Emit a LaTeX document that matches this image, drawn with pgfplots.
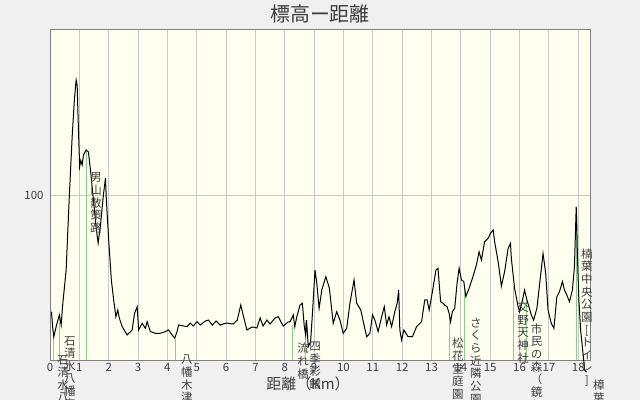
\documentclass[border=0pt]{standalone}
\usepackage{fontspec}
\setmainfont{Noto Sans CJK JP}
\usepackage{pgfplots}
\pgfplotsset{compat=1.18}
\definecolor{figbg}{RGB}{240,240,240}
\definecolor{plotbg}{RGB}{255,255,240}
\definecolor{gridc}{RGB}{200,200,200}
\definecolor{framec}{RGB}{128,128,128}
\definecolor{wpgreen}{RGB}{140,205,140}
\definecolor{txt}{RGB}{60,60,60}
\tikzset{wplabel/.style={anchor=north, inner sep=0pt, align=center, text=txt, font=\fontsize{11.5}{12.7}\selectfont}}
\begin{document}
\begin{tikzpicture}
\fill[figbg] (0,0) rectangle (640bp,400bp);
\useasboundingbox (0,0) rectangle (640bp,400bp);
\begin{axis}[
  at={(50bp,40bp)}, anchor=south west,
  width=540bp, height=330bp, scale only axis,
  xmin=0, xmax=18.4, ymin=0, ymax=200,
  clip=false,
  axis background/.style={fill=plotbg},
  axis line style={framec, line width=1bp},
  grid=major, major grid style={gridc, line width=1bp},
  xtick={0,1,...,18}, ytick={100},
  major tick length=0pt, tick style={draw=none},
  /pgf/number format/assume math mode=true,
  ticklabel style={font=\fontsize{11.5}{13}\selectfont, text=txt},
  yticklabel style={xshift=-3bp},
]
% waypoint lines
\addplot[wpgreen, line width=1bp] coordinates {(0.11,0) (0.11,14.5)};
\addplot[wpgreen, line width=1bp] coordinates {(0.33,0) (0.33,27)};
\addplot[wpgreen, line width=1bp] coordinates {(1.24,0) (1.24,127)};
\addplot[wpgreen, line width=1bp] coordinates {(4.27,0) (4.27,13)};
\addplot[wpgreen, line width=1bp] coordinates {(8.27,0) (8.27,21)};
\addplot[wpgreen, line width=1bp] coordinates {(8.72,0) (8.72,23)};
\addplot[wpgreen, line width=1bp] coordinates {(13.6,0) (13.6,28)};
\addplot[wpgreen, line width=1bp] coordinates {(14.14,0) (14.14,44)};
\addplot[wpgreen, line width=1bp] coordinates {(15.8,0) (15.8,45)};
\addplot[wpgreen, line width=1bp] coordinates {(16.25,0) (16.25,36)};
\addplot[wpgreen, line width=1bp] coordinates {(17.94,0) (17.94,80)};
% elevation profile
\addplot[black, line width=1bp] coordinates {
(0.05,29.3)(0.09,20)(0.13,14.1)(0.22,21)(0.32,27.3)(0.38,21.2)(0.43,33)(0.55,54.5)(0.66,100)(0.755,135.3)(0.83,157.6)(0.89,169.7)(0.925,166.7)(0.97,139.4)(1.01,117.2)(1.05,121)(1.095,118.2)(1.14,124.2)(1.23,127.3)(1.31,126)(1.38,115)(1.48,97)(1.58,78.8)(1.64,70.9)(1.72,81.8)(1.82,100)(1.89,110.3)(1.92,97)(2.0,72.7)(2.09,48.5)(2.17,36.4)(2.245,26.2)(2.31,30.3)(2.36,25.5)(2.46,20.2)(2.63,15.2)(2.80,18.2)(2.88,28.3)(2.97,32.3)(3.02,18.2)(3.14,22.2)(3.25,19.2)(3.31,23.2)(3.42,17.2)(3.59,16.2)(3.76,16.2)(3.93,17.2)(4.04,18.2)(4.16,15.2)(4.25,13.2)(4.33,17.2)(4.38,21.2)(4.67,20.2)(4.78,22.4)(4.88,20.6)(5.01,23.2)(5.12,21.2)(5.29,23.6)(5.40,24.2)(5.53,21.2)(5.66,23.6)(5.80,21.2)(6.0,22.4)(6.24,21.8)(6.38,24.2)(6.50,33.3)(6.58,27.3)(6.71,18.2)(6.89,20)(7.05,19.4)(7.16,25.5)(7.26,20.6)(7.39,24.2)(7.5,21.8)(7.67,25.5)(7.78,26.2)(7.87,23)(7.95,20.6)(8.11,23)(8.18,23.2)(8.29,27.3)(8.34,20.2)(8.41,26.2)(8.52,33.3)(8.60,34.4)(8.66,21.2)(8.71,15.2)(8.74,24.2)(8.80,8.1)(8.88,11.1)(8.95,30.3)(9.03,54.5)(9.09,46.5)(9.17,31.3)(9.26,42.4)(9.40,50.5)(9.52,43.5)(9.65,22.2)(9.77,29.3)(9.88,24.2)(9.99,16.2)(10.11,19.2)(10.22,34.4)(10.36,48.5)(10.45,34.4)(10.59,30.3)(10.70,21.2)(10.79,14.1)(10.90,16.2)(10.99,27.3)(11.07,24.2)(11.18,17.2)(11.30,26.2)(11.39,32.3)(11.47,21.2)(11.55,26.2)(11.64,20.2)(11.75,29.3)(11.83,34.4)(11.88,42.4)(11.92,18.2)(11.98,12.1)(12.06,18.2)(12.20,14.1)(12.35,14.1)(12.49,20.2)(12.66,23.2)(12.77,36.4)(12.85,36.4)(12.92,30.3)(13.03,41.4)(13.15,54.5)(13.22,55.6)(13.31,35.3)(13.39,34.4)(13.45,33.3)(13.53,32.3)(13.60,28.3)(13.65,23.2)(13.71,29.3)(13.79,31.3)(13.87,46.5)(13.94,55.6)(14.02,48.5)(14.10,47.5)(14.17,38.4)(14.30,44.4)(14.41,50.5)(14.53,57.6)(14.62,65.6)(14.70,60.6)(14.81,71.7)(14.93,73.8)(15.01,76.8)(15.10,78.8)(15.15,71.7)(15.27,59.6)(15.38,44.8)(15.49,53.5)(15.61,67.7)(15.69,70.7)(15.72,61.6)(15.83,43.5)(15.95,32.3)(16.0,29.3)(16.10,36.4)(16.17,42.4)(16.25,36.4)(16.32,32.3)(16.40,27.3)(16.48,24.2)(16.59,31.3)(16.68,45.5)(16.80,64.6)(16.89,52.5)(16.97,30.3)(17.08,22.2)(17.17,19.2)(17.27,38.4)(17.36,41.4)(17.46,47.5)(17.53,42.4)(17.61,39.4)(17.70,35.3)(17.80,42.4)(17.87,56.5)(17.93,92.9)(17.95,81.8)(17.97,63.6)(18.02,36.4)(18.08,18.2)(18.15,6.1)(18.22,-6.1)(18.28,-7.3)
};
% waypoint labels
\node[wplabel] at (axis cs:0.45,3.0) {石\\清\\水\\八\\幡\\宮\\駅};
\node[wplabel] at (axis cs:0.68,14.5) {石\\清\\水\\八\\幡\\宮};
\node[wplabel] at (axis cs:1.57,113.5) {男\\山\\散\\策\\路};
\node[wplabel] at (axis cs:4.66,3.0) {八\\幡\\木\\津};
\node[wplabel] at (axis cs:8.62,10.3) {流\\れ\\橋};
\node[wplabel] at (axis cs:9.03,11.1) {四\\季\\彩\\館};
\node[wplabel] at (axis cs:13.9,13.3) {松\\花\\堂\\庭\\園};
\node[wplabel] at (axis cs:14.51,25.5) {さ\\く\\ら\\近\\隣\\公\\園};
\node[wplabel] at (axis cs:16.12,35.3) {交\\野\\天\\神\\社};
\node[wplabel] at (axis cs:16.58,22.2) {市\\民\\の\\森\\（\\鏡\\伝\\池\\）};
\node[wplabel] at (axis cs:18.29,67.7) {楠\\葉\\中\\央\\公\\園\\{[}\\ト\\イ\\レ\\{]}};
\node[wplabel] at (axis cs:18.7,-12.1) {樟\\葉\\駅};
\end{axis}
\node[text=txt, font=\fontsize{20}{24}\selectfont, inner sep=0pt] at (320bp,386.5bp) {標高ー距離};
\node[text=txt, font=\fontsize{15}{18}\selectfont, inner sep=0pt] at (308bp,16bp) {距離（Km）};
\end{tikzpicture}
\end{document}
